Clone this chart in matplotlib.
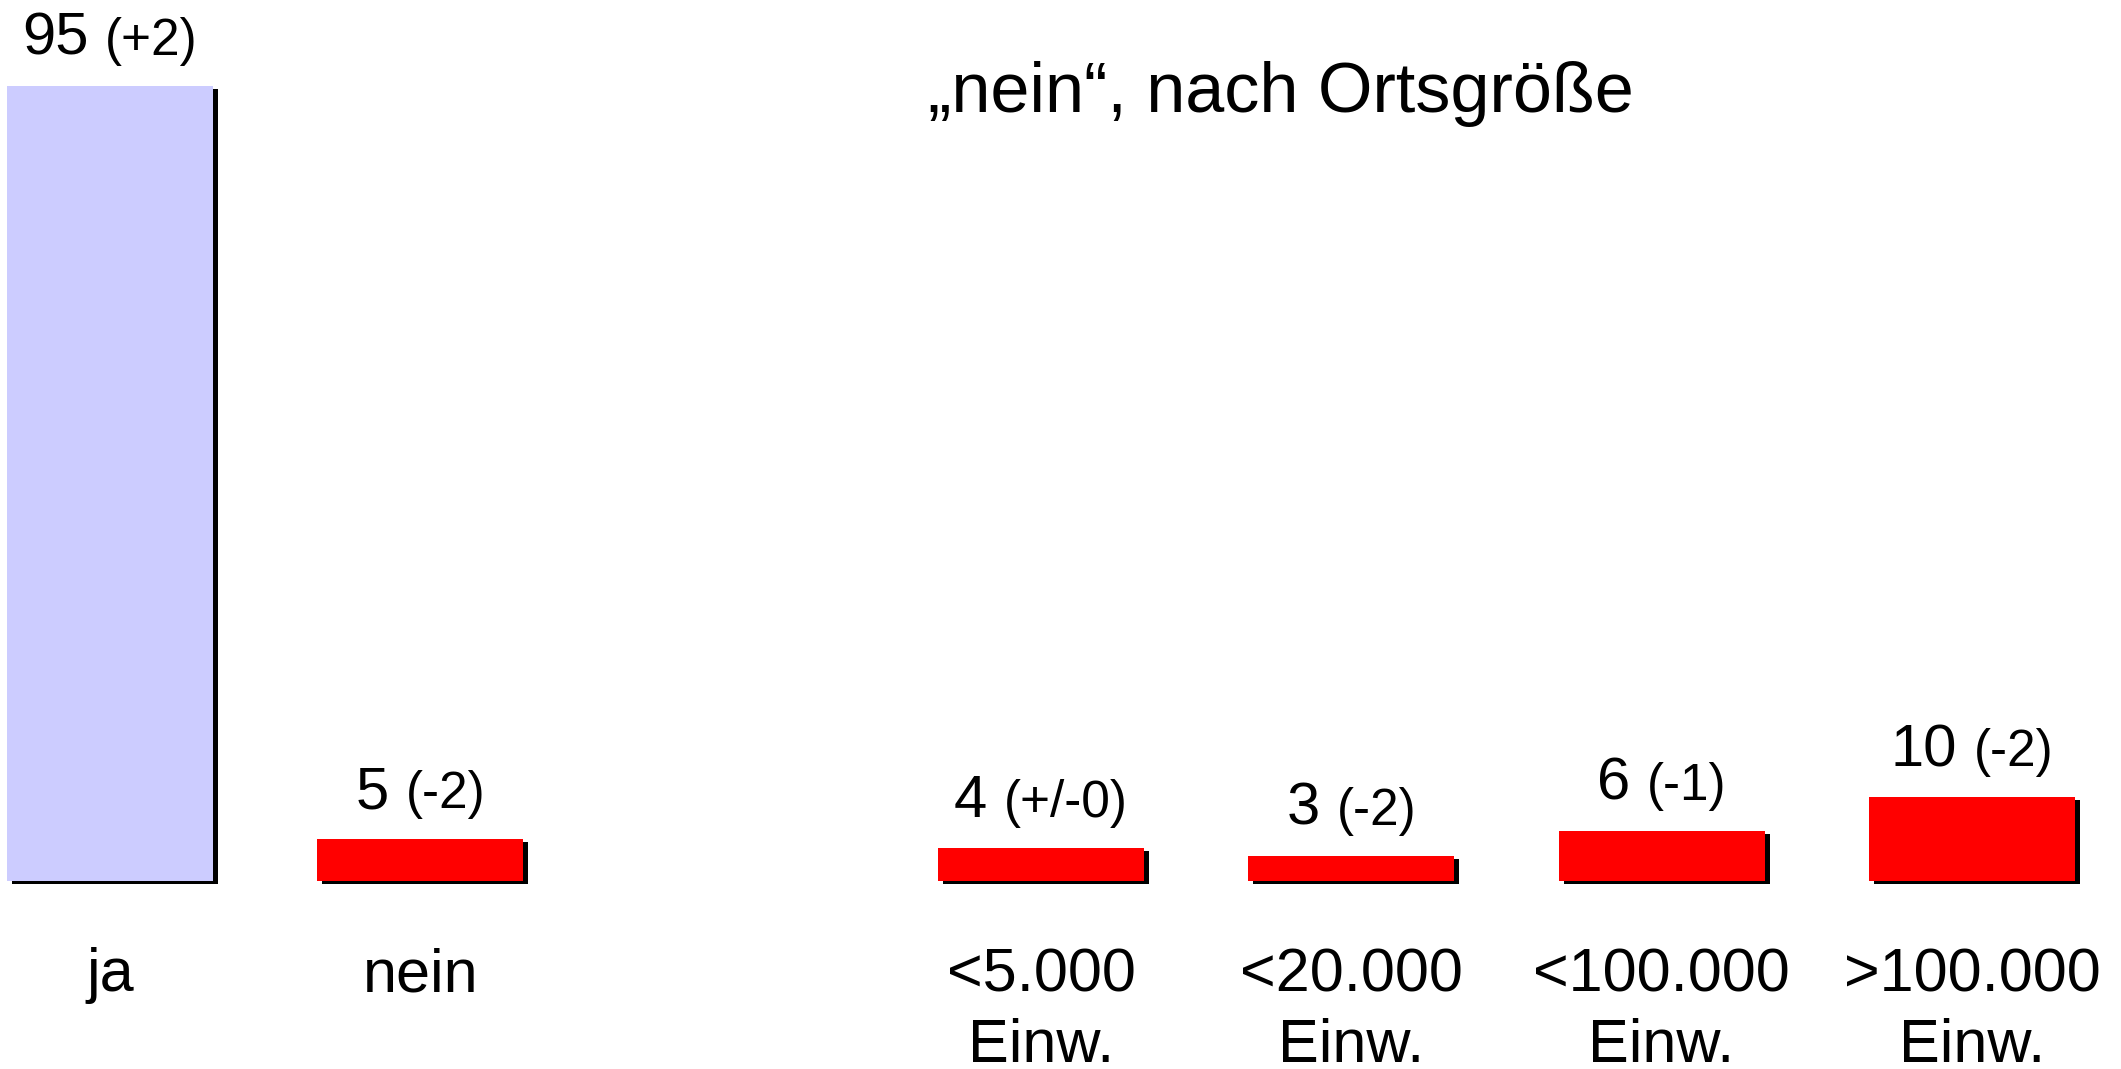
import numpy as np
import matplotlib
matplotlib.use("Agg")
import matplotlib.pyplot as plt
from matplotlib import transforms

# ---- data ----
main_labels = ["ja", "nein"]
main_values = [95, 5]
main_changes = ["(+2)", "(-2)"]

size_labels = ["<5.000\nEinw.", "<20.000\nEinw.", "<100.000\nEinw.", ">100.000\nEinw."]
size_values = [4, 3, 6, 10]
size_changes = ["(+/-0)", "(-2)", "(-1)", "(-2)"]

title = "\u201enein\u201c, nach Ortsgr\u00f6\u00dfe"

plt.rcParams["font.family"] = ["Liberation Sans", "DejaVu Sans"]

W, H, DPI = 2121, 1069, 100
fig = plt.figure(figsize=(W / DPI, H / DPI), dpi=DPI)
fig.patch.set_facecolor("white")
ax = fig.add_axes([0, 0, 1, 1])
ax.set_axis_off()

# positions: two main bars, a gap, then four size bars
pos_main = np.arange(len(main_values))
pos_size = len(main_values) + 1 + np.arange(len(size_values))
positions = np.concatenate([pos_main, pos_size])
values = list(main_values) + list(size_values)
changes = list(main_changes) + list(size_changes)
labels = list(main_labels) + list(size_labels)
colors = ["#CCCCFF"] + ["#FF0000"] * (len(values) - 1)

px_per_unit_x = 310.32
x0_px = 110.0
px_per_unit_y = 8.37
base_px_from_top = 881.0
ax.set_xlim(-x0_px / px_per_unit_x, (W - x0_px) / px_per_unit_x)
ax.set_ylim(-(H - base_px_from_top) / px_per_unit_y, base_px_from_top / px_per_unit_y)

bar_w = 206 / px_per_unit_x

# shadows
shadow_tr = transforms.offset_copy(ax.transData, fig=fig, x=5, y=-3, units="dots")
shadows = ax.bar(positions, values, width=bar_w, color="black", zorder=1, linewidth=0)
for p in shadows:
    p.set_transform(shadow_tr)
ax.bar(positions, values, width=bar_w, color=colors, zorder=2, linewidth=0)

# value labels: number larger, change smaller, centered over bar
fs_num = 43
fs_chg = 37
fig.canvas.draw()
renderer = fig.canvas.get_renderer()
space_px = 0.2778 * fs_num * DPI / 72.0
gap_px = 31
for x, v, c in zip(positions, values, changes):
    t1 = ax.text(0, 0, str(v), fontsize=fs_num)
    t2 = ax.text(0, 0, c, fontsize=fs_chg)
    w1 = t1.get_window_extent(renderer).width
    w2 = t2.get_window_extent(renderer).width
    t1.remove(); t2.remove()
    total = w1 + space_px + w2
    left = -total / 2
    ax.annotate(str(v), xy=(x, v), xytext=(left, gap_px), textcoords="offset pixels",
                fontsize=fs_num, ha="left", va="baseline", zorder=3)
    ax.annotate(c, xy=(x, v), xytext=(left + w1 + space_px, gap_px), textcoords="offset pixels",
                fontsize=fs_chg, ha="left", va="baseline", zorder=3)

# category labels
for x, lab in zip(positions, labels):
    ax.annotate(lab, xy=(x, 0), xytext=(0, -66), textcoords="offset pixels",
                fontsize=44, ha="center", va="top", linespacing=1.32, multialignment="center")

# title
fig.text(1281 / W, (H - 111.7) / H, title, fontsize=50.5, ha="center", va="baseline")

fig.savefig("out.png", dpi=DPI, facecolor="white")
